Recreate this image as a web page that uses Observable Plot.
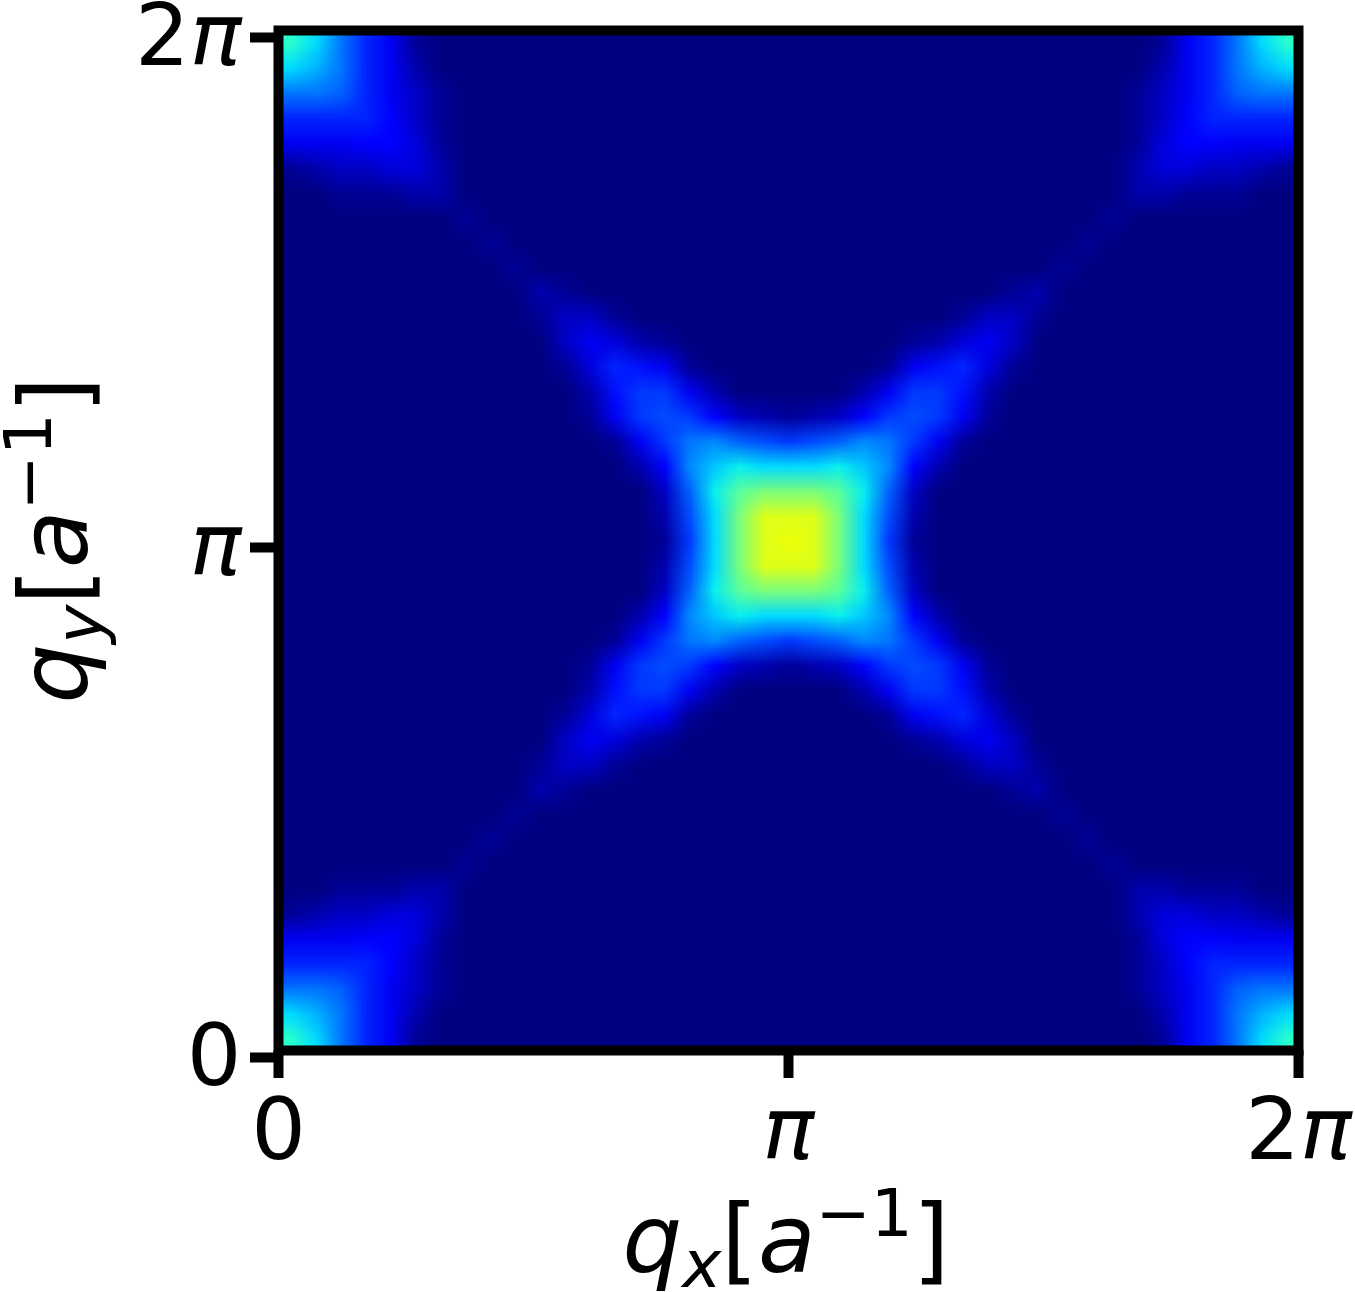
<!DOCTYPE html>
<html>
<head>
<meta charset="utf-8">
<script src="https://cdn.jsdelivr.net/npm/d3@7"></script>
<script src="https://cdn.jsdelivr.net/npm/@observablehq/plot@0.6"></script>
<style>
  html, body { margin: 0; padding: 0; background: #fff; }
  svg { display: block; }
</style>
</head>
<body>
<div id="chart"></div>
<script>
// Intensity on a 41 x 41 grid (top row = qy 2π, bottom row = qy 0;
// left column = qx 0, right = qx 2π). One base-36 character per cell, value = digit * levelStep.
// Spaces only group the characters for readability.
const gridRows = [
  "khc85 10000 00000 00000 0 00000 00000 00001 58chk",
  "hfc85 20000 00000 00000 0 00000 00000 00002 58cfh",
  "ccb85 31000 00000 00000 0 00000 00000 00013 58bcc",
  "88886 31000 00000 00000 0 00000 00000 00013 68888",
  "55566 41000 00000 00000 0 00000 00000 00014 66555",
  "12334 42000 00000 00000 0 00000 00000 00024 43321",
  "00111 22000 00000 00000 0 00000 00000 00022 11100",
  "00000 00100 00000 00000 0 00000 00000 00100 00000",
  "00000 00010 00000 00000 0 00000 00000 01000 00000",
  "00000 00001 00000 00000 0 00000 00000 10000 00000",
  "00000 00000 21000 00000 0 00000 00012 00000 00000",
  "00000 00000 13310 00000 0 00000 01331 00000 00000",
  "00000 00000 03542 10000 0 00001 24530 00000 00000",
  "00000 00000 01487 51000 0 00015 78410 00000 00000",
  "00000 00000 00279 95200 0 00259 97200 00000 00000",
  "00000 00000 00159 a9632 1 2369a 95100 00000 00000",
  "00000 00000 00015 9cdba 9 abdc9 51000 00000 00000",
  "00000 00000 00002 6dgih h higd6 20000 00000 00000",
  "00000 00000 00000 3binp p pnib3 00000 00000 00000",
  "00000 00000 00000 2ahpv v vpha2 00000 00000 00000",
  "00000 00000 00000 19hpv w vph91 00000 00000 00000",
  "00000 00000 00000 2ahpv v vpha2 00000 00000 00000",
  "00000 00000 00000 3binp p pnib3 00000 00000 00000",
  "00000 00000 00002 6dgih h higd6 20000 00000 00000",
  "00000 00000 00015 9cdba 9 abdc9 51000 00000 00000",
  "00000 00000 00159 a9632 1 2369a 95100 00000 00000",
  "00000 00000 00279 95200 0 00259 97200 00000 00000",
  "00000 00000 01487 51000 0 00015 78410 00000 00000",
  "00000 00000 03542 10000 0 00001 24530 00000 00000",
  "00000 00000 13310 00000 0 00000 01331 00000 00000",
  "00000 00000 21000 00000 0 00000 00012 00000 00000",
  "00000 00001 00000 00000 0 00000 00000 10000 00000",
  "00000 00010 00000 00000 0 00000 00000 01000 00000",
  "00000 00100 00000 00000 0 00000 00000 00100 00000",
  "00111 22000 00000 00000 0 00000 00000 00022 11100",
  "12334 42000 00000 00000 0 00000 00000 00024 43321",
  "55566 41000 00000 00000 0 00000 00000 00014 66555",
  "88886 31000 00000 00000 0 00000 00000 00013 68888",
  "ccb85 31000 00000 00000 0 00000 00000 00013 58bcc",
  "hfc85 20000 00000 00000 0 00000 00000 00002 58cfh",
  "khc85 10000 00000 00000 0 00000 00000 00001 58chk"
];
const levelStep = 0.02;

const tickValues = [0, Math.PI, 2 * Math.PI];
const tickLabels = ["0", "π", "2π"];

// matplotlib "jet" colormap stops
const jetStops  = [0, 0.11, 0.125, 0.34, 0.35, 0.375, 0.64, 0.65, 0.66, 0.89, 0.91, 1];
const jetColors = ["#000080", "#0000ff", "#0000ff", "#00dbff", "#00e6f7", "#15ffe2",
                   "#eeff08", "#f7f500", "#ffec00", "#ff1300", "#e80000", "#800000"];

// ---- parse grid ----
const N = gridRows.length;
const values = [];
gridRows.forEach((row, i) => {
  const s = row.replace(/ /g, "");
  if (s.length !== N) throw new Error("grid row " + i + " has length " + s.length);
  for (const ch of s) values.push(parseInt(ch, 36) * levelStep);
});

// ---- layout ----
const W = 1355, H = 1292;
const mL = 278, mR = 57, mT = 30, mB = 242;
const FONT = "DejaVu Sans";
const tickFont = 86;

const fmt = d => tickLabels[tickValues.findIndex(t => Math.abs(t - d) < 1e-9)];

const chart = Plot.plot({
  width: W,
  height: H,
  marginLeft: mL,
  marginRight: mR,
  marginTop: mT,
  marginBottom: mB,
  style: { fontFamily: FONT, background: "white", color: "black", overflow: "visible" },
  x: { domain: [0, 2 * Math.PI] },
  y: { domain: [0, 2 * Math.PI] },
  color: { type: "linear", domain: jetStops, range: jetColors, interpolate: "rgb", clamp: true },
  marks: [
    Plot.raster(values, {
      width: N, height: N,
      x1: 0, x2: 2 * Math.PI, y1: 2 * Math.PI, y2: 0,
      fill: d => d
    }),
    Plot.frame({ stroke: "black", strokeWidth: 10 }),
    Plot.axisX({
      ticks: tickValues, tickFormat: fmt, tickSize: 28, strokeWidth: 10,
      tickPadding: 19, fontSize: tickFont, label: null
    }),
    Plot.axisY({
      ticks: tickValues, tickFormat: fmt, tickSize: 28, strokeWidth: 10,
      tickPadding: 9, fontSize: tickFont, label: null, dy: 7
    })
  ]
});

document.getElementById("chart").appendChild(chart);

// italic π in tick labels (mathtext look)
const NS = "http://www.w3.org/2000/svg";
chart.querySelectorAll('g[aria-label$="tick label"] text').forEach(t => {
  const s = t.textContent;
  t.textContent = "";
  for (const ch of s) {
    const ts = document.createElementNS(NS, "tspan");
    ts.textContent = ch;
    if (ch === "π") ts.setAttribute("font-style", "italic");
    t.appendChild(ts);
  }
});

// axis labels with sub/superscripts
function mathLabel(sel, sub) {
  const base = 94, small = 66;
  sel.attr("text-anchor", "middle").attr("font-family", FONT)
     .attr("font-size", base).attr("fill", "black");
  sel.append("tspan").attr("font-style", "italic").text("q");
  sel.append("tspan").attr("font-style", "italic").attr("font-size", small).attr("dy", 15).text(sub);
  sel.append("tspan").attr("dy", -15).text("[");
  sel.append("tspan").attr("font-style", "italic").text("a");
  sel.append("tspan").attr("font-size", small).attr("dy", -36).text("−1");
  sel.append("tspan").attr("dy", 36).text("]");
}
const svg = d3.select(chart);
const cx = mL + (W - mL - mR) / 2;
const cy = mT + (H - mT - mB) / 2;
mathLabel(svg.append("text").attr("x", cx - 2).attr("y", 1272), "x");
mathLabel(svg.append("text").attr("transform", `translate(87,${cy}) rotate(-90)`), "y");
</script>
</body>
</html>
